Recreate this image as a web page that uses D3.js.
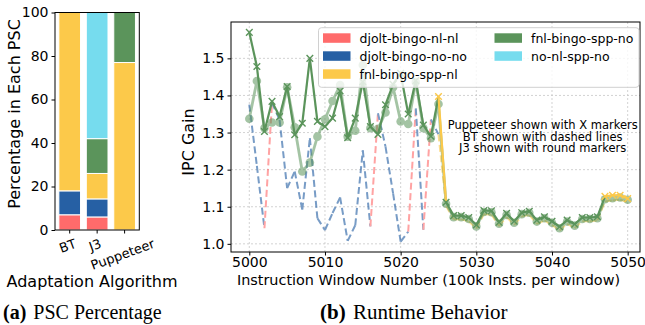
<!DOCTYPE html>
<html>
<head>
<meta charset="utf-8">
<script src="https://cdn.jsdelivr.net/npm/d3@7"></script>
<style>
  body { margin: 0; background: #fff; }
  text { font-family: "DejaVu Sans", sans-serif; }
</style>
</head>
<body>
<div id="chart"></div>
<script>
// PSC configurations and their colours
var pscNames = ["djolt-bingo-nl-nl", "djolt-bingo-no-no", "fnl-bingo-spp-nl", "fnl-bingo-spp-no", "no-nl-spp-no"];
var pscColors = ["#ff6b6b", "#2660a4", "#fcc94a", "#5b945b", "#76dcee"];

// (a) share of windows in each PSC, per algorithm (stacked in pscNames order)
var algos = ["BT", "J3", "Puppeteer"];
var btShare  = [7, 11, 82, 0, 0];
var j3Share  = [6, 8.3, 11.7, 16, 58];
var pupShare = [0, 0, 77, 23, 0];
var yTicksA = [0, 20, 40, 60, 80, 100];

// (b) IPC gain per instruction window
var firstWindow = 5000;
var btIpc = [1.375, 1.21, 1.042, 1.38, 1.334, 1.15, 1.195, 1.092, 1.285, 1.069,
             1.037, 1.083, 1.125, 1.008, 1.05, 1.252, 1.047, 1.352, 1.262, 1.136,
             1.006, 1.033, 1.365, 1.038, 1.335, 1.295, 1.102, 1.066, 1.066, 1.061,
             1.041, 1.08, 1.079, 1.048, 1.072, 1.051, 1.074, 1.078, 1.054, 1.063,
             1.051, 1.036, 1.054, 1.043, 1.061, 1.061, 1.063, 1.114, 1.117, 1.119, 1.113];
var btPsc = [1, 1, 0, 1, 1, 1, 1, 1, 1, 1, 1, 1, 1, 1, 1, 1, 0, 1, 1, 1, 1, 0, 1, 0, 1,
             2, 2, 2, 2, 2, 2, 2, 2, 2, 2, 2, 2, 2, 2, 2, 2, 2, 2, 2, 2, 2, 2, 2, 2, 2, 2];
var j3Ipc = [1.337, 1.439, 1.312, 1.327, 1.327, 1.422, 1.314, 1.195, 1.219, 1.289,
             1.336, 1.385, 1.428, 1.289, 1.305, 1.482, 1.312, 1.31, 1.354, 1.422,
             1.33, 1.323, 1.436, 1.312, 1.285, 1.377, 1.108, 1.072, 1.072, 1.067,
             1.047, 1.086, 1.085, 1.054, 1.078, 1.057, 1.08, 1.084, 1.06, 1.069,
             1.057, 1.042, 1.06, 1.049, 1.067, 1.067, 1.069, 1.12, 1.123, 1.125, 1.119];
var j3Psc = [3, 3, 3, 3, 3, 3, 3, 3, 3, 3, 3, 3, 3, 3, 3, 3, 3, 3, 3, 3, 3, 3, 3, 3, 3,
             3, 3, 3, 3, 3, 3, 3, 3, 3, 3, 3, 3, 3, 3, 3, 3, 3, 3, 3, 3, 3, 3, 3, 3, 3, 3];
var pupIpc = [1.57, 1.478, 1.303, 1.384, 1.343, 1.424, 1.294, 1.325, 1.5, 1.33,
              1.316, 1.339, 1.412, 1.286, 1.339, 1.437, 1.316, 1.295, 1.375, 1.43,
              1.46, 1.35, 1.44, 1.32, 1.29, 1.397, 1.112, 1.076, 1.076, 1.071,
              1.051, 1.09, 1.089, 1.058, 1.082, 1.061, 1.084, 1.088, 1.064, 1.073,
              1.061, 1.046, 1.064, 1.053, 1.071, 1.071, 1.073, 1.128, 1.131, 1.131, 1.122];
var pupPsc = [3, 3, 3, 3, 3, 3, 3, 3, 3, 3, 3, 3, 3, 3, 3, 3, 3, 3, 3, 3, 3, 3, 3, 3, 3,
              2, 3, 3, 3, 3, 3, 3, 3, 3, 3, 3, 3, 3, 3, 3, 3, 3, 3, 3, 3, 3, 3, 2, 2, 2, 2];
var xTicksB = [5000, 5010, 5020, 5030, 5040, 5050];
var yTicksB = [1.0, 1.1, 1.2, 1.3, 1.4, 1.5];
var notes = ["Puppeteer shown with X markers", "BT shown with dashed lines", "J3 shown with round markers"];

var w = 645, h = 325;
var svg = d3.select("#chart").append("svg").attr("width", w).attr("height", h);

// ---------- (a) stacked bars ----------
var L = {left: 55, right: 139.3, top: 12.5, bottom: 230};
var xA = d3.scaleBand().domain(algos).range([L.left, L.right]).paddingInner(0.21).paddingOuter(0.14);
var yA = d3.scaleLinear().domain([0, 100]).range([L.bottom, L.top]);

var shares = [btShare, j3Share, pupShare];
algos.forEach(function(a, i) {
  var acc = 0;
  shares[i].forEach(function(v, k) {
    if (v > 0) {
      svg.append("rect")
        .attr("x", xA(a))
        .attr("y", yA(acc + v))
        .attr("width", xA.bandwidth())
        .attr("height", yA(acc) - yA(acc + v))
        .attr("fill", pscColors[k])
        .attr("stroke", "#fff")
        .attr("stroke-width", 1);
    }
    acc += v;
  });
});

var axA = svg.append("g").attr("transform", "translate(" + L.left + ",0)")
  .call(d3.axisLeft(yA).tickValues(yTicksA).tickSize(3.5).tickPadding(3));
axA.select(".domain").remove();
axA.selectAll("text").attr("font-size", 14).attr("fill", "#000").style("font-family", "DejaVu Sans");

svg.append("rect").attr("x", L.left).attr("y", L.top)
  .attr("width", L.right - L.left).attr("height", L.bottom - L.top)
  .attr("fill", "none").attr("stroke", "#000").attr("stroke-width", 1);

// rotated category labels
algos.forEach(function(a) {
  var cx = xA(a) + xA.bandwidth() / 2;
  svg.append("line").attr("x1", cx).attr("x2", cx).attr("y1", L.bottom).attr("y2", L.bottom + 3.5).attr("stroke", "#000");
  var t = svg.append("text").attr("font-size", 13).attr("text-anchor", "middle")
    .attr("dominant-baseline", "central").text(a);
  var len = t.node().getComputedTextLength();
  var ang = 20 * Math.PI / 180;
  var bh = len * Math.sin(ang) + 15 * Math.cos(ang);
  t.attr("transform", "translate(" + (cx - 2) + "," + (L.bottom + 6 + bh / 2) + ") rotate(-20)");
});

svg.append("text").attr("x", 92).attr("y", 287).attr("text-anchor", "middle")
  .attr("font-size", 16).text("Adaptation Algorithm");
svg.append("text").attr("transform", "translate(20,114) rotate(-90)").attr("text-anchor", "middle")
  .attr("font-size", 16).text("Percentage in Each PSC");

// ---------- (b) runtime lines ----------
var R = {left: 231, right: 640, top: 22, bottom: 252};
var x = d3.scaleLinear().domain([4997.58, 5051.63]).range([R.left, R.right]);
var y = d3.scaleLinear().domain([0.978, 1.598]).range([R.bottom, R.top]);

var grid = svg.append("g");
xTicksB.forEach(function(t) {
  grid.append("line").attr("x1", x(t)).attr("x2", x(t)).attr("y1", R.top).attr("y2", R.bottom);
});
yTicksB.forEach(function(t) {
  grid.append("line").attr("x1", R.left).attr("x2", R.right).attr("y1", y(t)).attr("y2", y(t));
});
grid.selectAll("line").attr("stroke", "#c8c8c8").attr("stroke-width", 0.8).attr("stroke-dasharray", "2,2");

function series(vals, pscs, opt) {
  var g = svg.append("g").attr("opacity", opt.opacity);
  for (var i = 0; i < vals.length - 1; i++) {
    g.append("line")
      .attr("x1", x(firstWindow + i)).attr("y1", y(vals[i]))
      .attr("x2", x(firstWindow + i + 1)).attr("y2", y(vals[i + 1]))
      .attr("stroke", pscColors[pscs[i]])
      .attr("stroke-width", opt.lw)
      .attr("stroke-dasharray", opt.dash || null);
  }
  vals.forEach(function(v, i) {
    var px = x(firstWindow + i), py = y(v);
    if (opt.marker == "o") {
      g.append("circle").attr("cx", px).attr("cy", py).attr("r", 4.3).attr("fill", pscColors[pscs[i]]);
    } else if (opt.marker == "x") {
      g.append("path").attr("d", "M-3.3,-3.3L3.3,3.3M-3.3,3.3L3.3,-3.3")
        .attr("transform", "translate(" + px + "," + py + ")")
        .attr("stroke", pscColors[pscs[i]]).attr("stroke-width", 1.4).attr("fill", "none");
    }
  });
}

series(btIpc, btPsc, {opacity: 0.62, lw: 2, dash: "7,3.5"});
series(j3Ipc, j3Psc, {opacity: 0.55, lw: 2.8, marker: "o"});
series(pupIpc, pupPsc, {opacity: 1, lw: 2.2, marker: "x"});

var axX = svg.append("g").attr("transform", "translate(0," + R.bottom + ")")
  .call(d3.axisBottom(x).tickValues(xTicksB).tickFormat(d3.format("d")).tickSize(3.5).tickPadding(2));
var axY = svg.append("g").attr("transform", "translate(" + R.left + ",0)")
  .call(d3.axisLeft(y).tickValues(yTicksB).tickFormat(d3.format(".1f")).tickSize(3.5).tickPadding(3));
[axX, axY].forEach(function(a) {
  a.select(".domain").remove();
  a.selectAll("text").attr("font-size", 14).attr("fill", "#000").style("font-family", "DejaVu Sans");
});
svg.append("rect").attr("x", R.left).attr("y", R.top)
  .attr("width", R.right - R.left).attr("height", R.bottom - R.top)
  .attr("fill", "none").attr("stroke", "#000").attr("stroke-width", 1);

// legend
var lg = svg.append("g");
lg.append("rect").attr("x", 318.5).attr("y", 27.7).attr("width", 320.5).attr("height", 59.6)
  .attr("rx", 3).attr("fill", "#fff").attr("fill-opacity", 0.8).attr("stroke", "#d0d0d0");
pscNames.forEach(function(n, i) {
  var col = i < 3 ? 0 : 1, row = i < 3 ? i : i - 3;
  var px = col == 0 ? 323 : 494.5, cy = 38 + row * 18;
  lg.append("rect").attr("x", px).attr("y", cy - 4.7).attr("width", 27.5).attr("height", 9.5).attr("fill", pscColors[i]);
  lg.append("text").attr("x", px + 36.5).attr("y", cy + 4.5).attr("font-size", 12.5).text(n);
});

notes.forEach(function(n, i) {
  svg.append("text").attr("x", 542.7).attr("y", 129 + i * 11.6).attr("text-anchor", "middle")
    .attr("font-size", 11.5).text(n);
});

svg.append("text").attr("transform", "translate(194,142) rotate(-90)").attr("text-anchor", "middle")
  .attr("font-size", 16).text("IPC Gain");
svg.append("text").attr("x", (R.left + R.right) / 2 - 7).attr("y", 284.5).attr("text-anchor", "middle")
  .attr("font-size", 14.4).text("Instruction Window Number (100k Insts. per window)");

// captions
function caption(x0, size, tag, label) {
  var t = svg.append("text").attr("x", x0).attr("y", 319)
    .style("font-family", "Liberation Serif, Times New Roman, serif").attr("font-size", size);
  t.append("tspan").attr("font-weight", "bold").text(tag);
  t.append("tspan").attr("dx", 2).text(" " + label);
}
caption(3, 20, "(a)", "PSC Percentage");
caption(320, 21, "(b)", "Runtime Behavior");
</script>
</body>
</html>
